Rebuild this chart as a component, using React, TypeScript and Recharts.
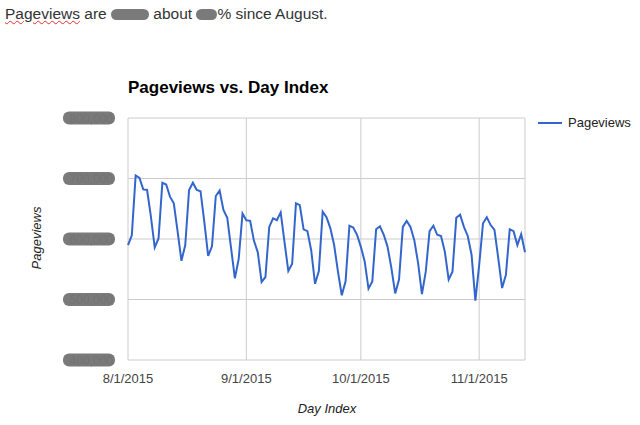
import React from 'react';
import { LineChart, Line, XAxis, YAxis, CartesianGrid, Legend } from 'recharts';

const seriesName = 'Pageviews';

// one value per day, 8/1/2015 .. 11/13/2015
const pageviews = [
  590000, 606000, 705000, 701000, 682000, 681000, 637000, 586000, 601000, 693000,
  690000, 670000, 659000, 612000, 564000, 590000, 681000, 693000, 681000, 679000,
  628000, 572000, 588000, 671000, 680000, 648000, 635000, 585000, 535000, 567000,
  642000, 631000, 630000, 597000, 578000, 529000, 537000, 620000, 634000, 631000,
  644000, 595000, 547000, 559000, 659000, 656000, 616000, 613000, 581000, 526000,
  547000, 645000, 636000, 618000, 590000, 546000, 507000, 530000, 622000, 619000,
  607000, 587000, 563000, 518000, 530000, 616000, 621000, 607000, 587000, 552000,
  510000, 533000, 620000, 630000, 620000, 598000, 560000, 509000, 546000, 613000,
  622000, 607000, 605000, 579000, 533000, 546000, 635000, 640000, 620000, 605000,
  574000, 498000, 557000, 626000, 636000, 623000, 615000, 568000, 519000, 541000,
  616000, 613000, 590000, 608000, 578000,
];

const xTickDays = [0, 31, 61, 92];
const xTickLabels = ['8/1/2015', '9/1/2015', '10/1/2015', '11/1/2015'];
const yTicks = [400000, 500000, 600000, 700000, 800000];

const data = pageviews.map((v, i) => ({ day: i, pageviews: v }));

const font = 'Arial, "Liberation Sans", sans-serif';

// y labels are blurred out in the original, so draw them as grey blobs
function BlurredTick(props: any) {
  const { x, y, payload } = props;
  const right = x - 5;
  return (
    <g>
      <rect x={right - 52} y={y - 6.5} width={52} height={13} rx={6} fill="#7a7a7a" />
      <text x={right - 2} y={y + 4.5} textAnchor="end" fontSize={12} fill="#737373">
        {payload.value.toLocaleString('en-US')}
      </text>
    </g>
  );
}

function LegendContent() {
  return (
    <div style={{ display: 'flex', alignItems: 'center', fontSize: 13, color: '#222' }}>
      <svg width={26} height={10} style={{ marginRight: 5 }}>
        <line x1={1} y1={5} x2={25} y2={5} stroke="#3366cc" strokeWidth={2} />
      </svg>
      <span>{seriesName}</span>
    </div>
  );
}

const blob = (w: number) => (
  <span
    style={{
      display: 'inline-block',
      width: w,
      height: 11,
      background: '#7a7a7a',
      borderRadius: 6,
      verticalAlign: '-1px',
    }}
  />
);

export default function App() {
  return (
    <div style={{ position: 'absolute', left: 0, top: 0, width: 640, height: 425, background: '#fff', fontFamily: font }}>
      <div style={{ position: 'absolute', left: 5, top: 5, fontSize: 15.5, lineHeight: '18px', color: '#333', whiteSpace: 'nowrap' }}>
        <span style={{ textDecoration: 'underline wavy #e03030', textDecorationThickness: 1 }}>Pageviews</span> are {blob(38)} about {blob(21)}% since August.
      </div>
      <div style={{ position: 'absolute', left: 128, top: 78, fontSize: 17, fontWeight: 'bold', color: '#000' }}>
        Pageviews vs. Day Index
      </div>
      <div
        style={{
          position: 'absolute',
          left: 36,
          top: 238,
          fontSize: 13,
          fontStyle: 'italic',
          color: '#222',
          transform: 'translate(-50%, -50%) rotate(-90deg)',
        }}
      >
        Pageviews
      </div>
      <div style={{ position: 'absolute', left: 327, top: 401, fontSize: 13, fontStyle: 'italic', color: '#222', transform: 'translateX(-50%)' }}>
        Day Index
      </div>
      <LineChart width={640} height={425} data={data} margin={{ top: 118, right: 115, bottom: 35, left: 0 }}>
        <CartesianGrid stroke="#cccccc" />
        <XAxis
          type="number"
          dataKey="day"
          domain={[0, 104]}
          ticks={xTickDays}
          tickFormatter={(d) => xTickLabels[xTickDays.indexOf(d)]}
          axisLine={false}
          tickLine={false}
          tickMargin={8}
          height={30}
          tick={{ fill: '#444', fontSize: 13 }}
        />
        <YAxis
          domain={[400000, 800000]}
          ticks={yTicks}
          axisLine={false}
          tickLine={false}
          width={128}
          tick={<BlurredTick />}
        />
        <Legend
          layout="horizontal"
          verticalAlign="middle"
          align="center"
          content={<LegendContent />}
          wrapperStyle={{ left: 537, top: 115, width: 100 }}
        />
        <Line
          type="linear"
          dataKey="pageviews"
          name={seriesName}
          stroke="#3366cc"
          strokeWidth={2}
          dot={false}
          isAnimationActive={false}
        />
      </LineChart>
    </div>
  );
}
